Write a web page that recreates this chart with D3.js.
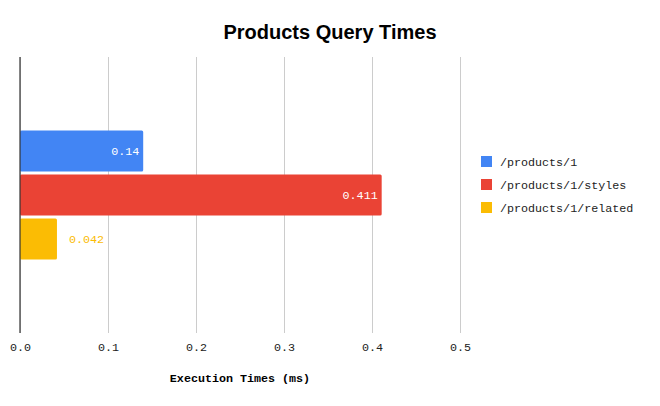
<!DOCTYPE html>
<html><head><meta charset="utf-8">
<script src="https://cdn.jsdelivr.net/npm/d3@7"></script>
<style>body{margin:0;background:#fff}svg{display:block}</style>
</head><body><div id="chart"></div>
<script>
const series = ["/products/1", "/products/1/styles", "/products/1/related"];
const values = [0.14, 0.411, 0.042];
const colors = ["#4285F4", "#EA4335", "#FBBC04"];
const ticks = [0, 0.1, 0.2, 0.3, 0.4, 0.5];
const title = "Products Query Times";
const xTitle = "Execution Times (ms)";

const W = 660, H = 406;
const m = {left: 20, right: 200, top: 57, bottom: 73};
const FS = 11.7;
const MONO = "Liberation Mono, Courier New, monospace";
const svg = d3.select("#chart").append("svg").attr("width", W).attr("height", H);
const x = d3.scaleLinear().domain([0, 0.5]).range([m.left, m.left + 440]);
const yGroup = d3.scaleBand().domain(["g"]).range([m.top, H - m.bottom]).paddingInner(0).paddingOuter(0.57);
const y = d3.scaleBand().domain(series).range([yGroup("g"), yGroup("g") + yGroup.bandwidth()]).paddingInner(0.068);

svg.append("text").attr("x", W / 2).attr("y", 39).attr("text-anchor", "middle")
  .attr("font-family", "Liberation Sans, Arial, sans-serif").attr("font-weight", "bold").attr("font-size", 20)
  .text(title);

const xAxis = svg.append("g").attr("transform", `translate(0,${H - m.bottom})`)
  .call(d3.axisBottom(x).tickValues(ticks).tickFormat(d3.format(".1f")).tickSize(-(H - m.bottom - m.top)).tickPadding(10));
xAxis.select(".domain").remove();
xAxis.selectAll(".tick line").attr("stroke", "#cccccc");
xAxis.selectAll(".tick text").attr("font-family", MONO).attr("font-size", FS).attr("fill", "#222");

svg.append("g").selectAll("rect").data(series).join("rect")
  .attr("x", x(0)).attr("y", d => y(d)).attr("width", (d, i) => x(values[i]) - x(0))
  .attr("height", y.bandwidth()).attr("rx", 1.5).attr("fill", (d, i) => colors[i]);

svg.append("line").attr("x1", x(0)).attr("x2", x(0)).attr("y1", m.top).attr("y2", H - m.bottom)
  .attr("stroke", "#333").attr("stroke-width", 1.2);

svg.append("g").selectAll("text").data(series).join("text")
  .attr("x", (d, i) => values[i] > 0.1 ? x(values[i]) - 4 : x(values[i]) + 12)
  .attr("y", d => y(d) + y.bandwidth() / 2).attr("dy", "0.35em")
  .attr("text-anchor", (d, i) => values[i] > 0.1 ? "end" : "start")
  .attr("font-family", MONO).attr("font-size", FS)
  .attr("fill", (d, i) => values[i] > 0.1 ? "#fff" : colors[i])
  .text((d, i) => values[i]);

svg.append("text").attr("x", (x(0) + x(0.5)) / 2).attr("y", 382).attr("text-anchor", "middle")
  .attr("font-family", MONO).attr("font-weight", "bold").attr("font-size", FS)
  .text(xTitle);

const leg = svg.append("g").selectAll("g").data(series).join("g")
  .attr("transform", (d, i) => `translate(481,${156 + i * 23})`);
leg.append("rect").attr("width", 11).attr("height", 11).attr("fill", (d, i) => colors[i]);
leg.append("text").attr("x", 19).attr("y", 5.5).attr("dy", "0.35em")
  .attr("font-family", MONO).attr("font-size", FS).attr("fill", "#222")
  .text(d => d);
</script></body></html>
